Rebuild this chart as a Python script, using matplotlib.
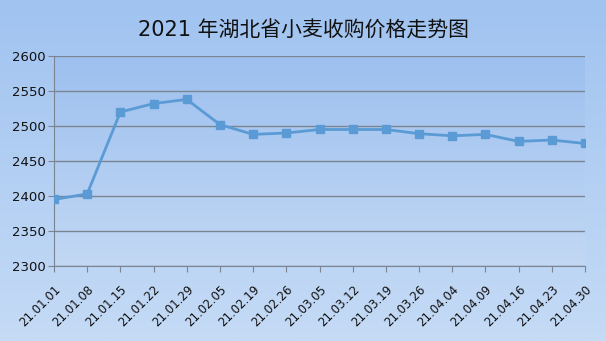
import numpy as np
import matplotlib.pyplot as plt
from matplotlib.colors import LinearSegmentedColormap

plt.rcParams['font.family'] = ['DejaVu Sans', 'Noto Sans CJK SC']

dates = ["21.01.01", "21.01.08", "21.01.15", "21.01.22", "21.01.29", "21.02.05",
         "21.02.19", "21.02.26", "21.03.05", "21.03.12", "21.03.19", "21.03.26",
         "21.04.04", "21.04.09", "21.04.16", "21.04.23", "21.04.30"]
prices = [2395, 2403, 2520, 2532, 2538, 2502, 2488, 2490, 2495, 2495, 2495,
          2489, 2486, 2488, 2478, 2480, 2475]
yticks = [2300, 2350, 2400, 2450, 2500, 2550, 2600]

fig = plt.figure(figsize=(6.06, 3.41), dpi=100)

# background gradient for the whole figure
bg = fig.add_axes([0, 0, 1, 1], zorder=-10)
grad = np.linspace(0, 1, 256).reshape(-1, 1)
cmap_bg = LinearSegmentedColormap.from_list("bg", ["#a0c3f0", "#c5dbf6"])
bg.imshow(grad, aspect='auto', cmap=cmap_bg, extent=[0, 1, 0, 1], origin='upper')
bg.axis('off')

ax = fig.add_axes([54/606, 1-266/341, 531/606, 210/341])
x = np.arange(len(dates))
cmap_ax = LinearSegmentedColormap.from_list("ax", ["#9dc0ef", "#c2d8f4"])
ax.imshow(grad, aspect='auto', cmap=cmap_ax, extent=[0, len(dates)-1, 2300, 2600],
          origin='upper', zorder=0)

ax.plot(x, prices, color='#5b9bd5', lw=2, marker='s', ms=6,
        markerfacecolor='#5b9bd5', markeredgecolor='#5b9bd5', zorder=3)

ax.set_xlim(0, len(dates)-1)
ax.set_ylim(2300, 2600)
ax.set_yticks(yticks)
ax.set_yticklabels([str(v) for v in yticks], fontsize=9.5, color='#111111')
ax.set_xticks(x)
ax.set_xticklabels(dates, rotation=45, ha='right', rotation_mode='anchor',
                   fontsize=8.5, color='#111111')
ax.grid(axis='y', color='#7a8591', lw=1)
ax.set_axisbelow(False)
for s in ['top', 'right']:
    ax.spines[s].set_visible(False)
ax.spines['left'].set_color('#7a8591')
ax.spines['bottom'].set_color('#7a8591')
ax.tick_params(axis='x', direction='out', length=4, color='#7a8591', pad=8)
ax.tick_params(axis='y', length=4, color='#7a8591', pad=2)

fig.text(0.5, 1-31/341, "2021 年湖北省小麦收购价格走势图", ha='center', va='center',
         fontsize=15, color='#111111')

fig.savefig("out.png", dpi=100)
